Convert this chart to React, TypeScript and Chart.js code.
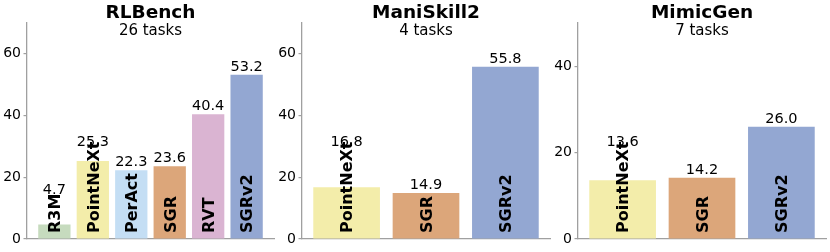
import React, { useEffect, useRef } from "react";
import { Chart, registerables } from "chart.js";

Chart.register(...registerables);

// ---- data ----
const rlbenchMethods = ["R3M", "PointNeXt", "PerAct", "SGR", "RVT", "SGRv2"];
const rlbenchValues = [4.7, 25.3, 22.3, 23.6, 40.4, 53.2];
const maniskillMethods = ["PointNeXt", "SGR", "SGRv2"];
const maniskillValues = [16.8, 14.9, 55.8];
const mimicgenMethods = ["PointNeXt", "SGR", "SGRv2"];
const mimicgenValues = [13.6, 14.2, 26.0];
const panelTitles = ["RLBench", "ManiSkill2", "MimicGen"];
const panelSubtitles = ["26 tasks", "4 tasks", "7 tasks"];
const panelYMax = [70, 70, 50];
const yTickStep = 20;

const methodColors: Record<string, string> = {
  R3M: "#c6dbbe",
  PointNeXt: "#f3edaa",
  PerAct: "#c4def4",
  SGR: "#dca67a",
  RVT: "#dab4d2",
  SGRv2: "#93a7d2",
};

const FONT = '"DejaVu Sans", sans-serif';
const AXIS_GRAY = "#a0a0a0";
const BAR_W = 0.84;

const annotPlugin = {
  id: "annot",
  afterDatasetsDraw(chart: any, _args: any, opts: any) {
    const { ctx, chartArea } = chart;
    const meta = chart.getDatasetMeta(0);
    const base = chart.scales.y.getPixelForValue(0);
    ctx.save();
    ctx.fillStyle = "#000";
    const labelSize = 16;
    meta.data.forEach((bar: any, i: number) => {
      const name = opts.methods[i];
      ctx.font = `bold ${labelSize}px ${FONT}`;
      const w = ctx.measureText(name).width;
      const cap = labelSize * 0.729;
      ctx.save();
      ctx.translate(bar.x + cap / 2, base - 6);
      ctx.rotate(-Math.PI / 2);
      ctx.textAlign = "left";
      ctx.textBaseline = "alphabetic";
      ctx.fillText(name, 0, 0);
      ctx.restore();
      const labelTop = base - 6 - w * 0.92;
      const yv = Math.min(bar.y - 4, labelTop - 3);
      ctx.font = `14.5px ${FONT}`;
      ctx.textAlign = "center";
      ctx.textBaseline = "alphabetic";
      ctx.fillText(opts.values[i].toFixed(1), bar.x, yv);
    });
    const cx = (chartArea.left + chartArea.right) / 2;
    ctx.textAlign = "center";
    ctx.textBaseline = "alphabetic";
    ctx.font = `bold 18.5px ${FONT}`;
    ctx.fillText(opts.title, cx, 17.5);
    ctx.font = `15px ${FONT}`;
    ctx.fillText(opts.subtitle, cx, 35.3);
    ctx.restore();
  },
};

type PanelProps = {
  methods: string[];
  values: number[];
  title: string;
  subtitle: string;
  yMax: number;
  axisLeft: number;
  axisRight: number;
};

function Panel({ methods, values, title, subtitle, yMax, axisLeft, axisRight }: PanelProps) {
  const ref = useRef<HTMLCanvasElement | null>(null);
  const yAxisW = 30;
  const padRight = 4;
  const width = axisRight - axisLeft + yAxisW + padRight;
  useEffect(() => {
    if (!ref.current) return;
    const n = methods.length;
    const span = n - 1 + BAR_W;
    const xMin = -BAR_W / 2 - 0.05 * span;
    const xMax = n - 1 + BAR_W / 2 + 0.05 * span;
    const chart = new Chart(ref.current, {
      type: "bar",
      data: {
        datasets: [
          {
            data: values.map((v, i) => ({ x: i, y: v })),
            backgroundColor: methods.map((m) => methodColors[m]),
            borderWidth: 0,
            barPercentage: BAR_W,
            categoryPercentage: 1,
          } as any,
        ],
      },
      options: {
        animation: false,
        responsive: false,
        devicePixelRatio: 1,
        layout: { padding: { top: 23, bottom: 13, left: 0, right: padRight } },
        plugins: {
          legend: { display: false },
          tooltip: { enabled: false },
          annot: { methods, values, title, subtitle },
        } as any,
        scales: {
          x: {
            type: "linear",
            min: xMin,
            max: xMax,
            offset: false,
            grid: { display: false, drawTicks: false },
            border: { display: true, color: AXIS_GRAY, width: 1.3 },
            ticks: { display: false, stepSize: 1, includeBounds: false },
            afterFit(s: any) {
              s.height = 0;
            },
          },
          y: {
            min: 0,
            max: yMax,
            ticks: {
              stepSize: yTickStep,
              color: "#000",
              font: { family: FONT, size: 14 },
              padding: 2.5,
            },
            afterBuildTicks(s: any) {
              s.ticks = s.ticks.filter((t: any) => t.value % yTickStep === 0);
            },
            grid: {
              drawOnChartArea: false,
              drawTicks: true,
              tickLength: 3.5,
              color: AXIS_GRAY,
              lineWidth: 1.2,
            },
            border: { display: true, color: AXIS_GRAY, width: 1.3 },
            afterFit(s: any) {
              s.width = yAxisW;
            },
          },
        } as any,
      },
      plugins: [annotPlugin],
    });
    return () => chart.destroy();
  }, []);
  return (
    <canvas
      ref={ref}
      width={width}
      height={252}
      style={{ position: "absolute", left: axisLeft - yAxisW, top: 0, width, height: 252 }}
    />
  );
}

export default function App() {
  return (
    <div
      style={{
        position: "fixed",
        left: 0,
        top: 0,
        width: 830,
        height: 252,
        background: "#fff",
        overflow: "hidden",
      }}
    >
      <Panel
        methods={rlbenchMethods}
        values={rlbenchValues}
        title={panelTitles[0]}
        subtitle={panelSubtitles[0]}
        yMax={panelYMax[0]}
        axisLeft={27}
        axisRight={274}
      />
      <Panel
        methods={maniskillMethods}
        values={maniskillValues}
        title={panelTitles[1]}
        subtitle={panelSubtitles[1]}
        yMax={panelYMax[1]}
        axisLeft={302}
        axisRight={550}
      />
      <Panel
        methods={mimicgenMethods}
        values={mimicgenValues}
        title={panelTitles[2]}
        subtitle={panelSubtitles[2]}
        yMax={panelYMax[2]}
        axisLeft={578}
        axisRight={826}
      />
    </div>
  );
}
